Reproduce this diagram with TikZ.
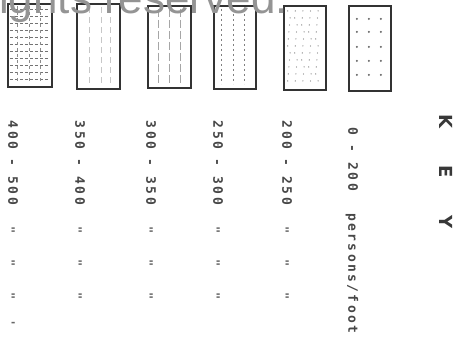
\documentclass[tikz,border=0pt]{standalone}
\usepackage{fontspec}
\setmainfont{DejaVu Sans}
\newfontfamily\monof{DejaVu Sans Mono}
\newfontfamily\wmf{Liberation Sans}
\newcommand\ch[1]{\makebox[10.5pt]{#1}}
\newcommand\hy{\makebox[24pt]{-}}
\newcommand\cs[1]{\makebox[10.2pt]{#1}}
\begin{document}
\begin{tikzpicture}[x=1pt,y=-1pt,
  keybox/.style={draw=black!80, line width=2.2pt, fill=white, inner sep=0pt},
  lbl/.style={rotate=-90, anchor=base west, inner sep=0pt, text=black!72, font=\monof\bfseries\fontsize{13}{13}\selectfont},
  ditto/.style={rotate=-90, anchor=base, inner sep=0pt, text=black!60, font=\monof\bfseries\fontsize{12}{12}\selectfont},
  keyltr/.style={rotate=-90, inner sep=0pt, text=black!78, font=\bfseries\fontsize{18}{18}\selectfont},
  wmark/.style={anchor=base west, inner sep=0pt, text=black!42, font=\wmf\fontsize{44}{44}\selectfont}]
\useasboundingbox (0,0) rectangle (464,338);
\fill[white] (0,0) rectangle (464,338);
% boxes
\node[keybox, minimum width=44pt, minimum height=83pt] (b1) at (30,45.5) {};
\node[keybox, minimum width=43pt, minimum height=85pt] (b2) at (98.5,46.5) {};
\node[keybox, minimum width=43pt, minimum height=82pt] (b3) at (169.5,47) {};
\node[keybox, minimum width=42pt, minimum height=83pt] (b4) at (235,47.5) {};
\node[keybox, minimum width=42pt, minimum height=84pt] (b5) at (305,48) {};
\node[keybox, minimum width=42pt, minimum height=85pt] (b6) at (370,48.5) {};
% patterns
\begin{scope}[shift={(b1.north west)}]
  \foreach \yy in {7,14,...,77} \draw[black!55, line width=1pt, dash pattern=on 3pt off 2pt] (3,\yy) -- (41,\yy);
  \foreach \xx in {10,22,33} \draw[black!45, line width=0.8pt, dash pattern=on 3pt off 3pt] (\xx,3) -- (\xx,80);
\end{scope}
\begin{scope}[shift={(b2.north west)}]
  \foreach \xx in {13,25,34} \draw[black!22, line width=0.7pt, dash pattern=on 6pt off 4pt] (\xx,4) -- (\xx,80);
\end{scope}
\begin{scope}[shift={(b3.north west)}]
  \foreach \xx in {11,22,33} \draw[black!35, line width=0.7pt, dash pattern=on 8pt off 3pt] (\xx,4) -- (\xx,78);
\end{scope}
\begin{scope}[shift={(b4.north west)}]
  \foreach \xx in {9,21,32} \draw[black!50, line width=0.9pt, dash pattern=on 2pt off 3pt] (\xx,4) -- (\xx,79);
\end{scope}
\begin{scope}[shift={(b5.north west)}]
  \foreach \xx in {6,13,20,27,34} \foreach \yy in {6,13,...,78} {
    \pgfmathsetmacro\jx{\xx+mod(\yy*7+\xx*3,5)*0.6-1.2}
    \fill[black!50] (\jx,\yy) circle (0.65pt);
  }
\end{scope}
\begin{scope}[shift={(b6.north west)}]
  \foreach \xx in {9,21,33} \foreach \yy in {14,27,42,56,70} \fill[black!60] (\xx,\yy) circle (1.1pt);
\end{scope}
% labels
\node[lbl] (l1) at (8.3,119) {\ch4\ch0\ch0\hy\ch5\ch0\ch0};
\node[lbl] (l2) at (75.3,119) {\ch3\ch5\ch0\hy\ch4\ch0\ch0};
\node[lbl] (l3) at (146.3,119) {\ch3\ch0\ch0\hy\ch3\ch5\ch0};
\node[lbl] (l4) at (213.3,119) {\ch2\ch5\ch0\hy\ch3\ch0\ch0};
\node[lbl] (l5) at (282.3,119) {\ch2\ch0\ch0\hy\ch2\ch5\ch0};
\node[lbl] (l6) at (348.3,126) {\ch0\hy\ch2\ch0\ch0\hspace{20pt}\cs p\cs e\cs r\cs s\cs o\cs n\cs s\cs /\cs f\cs o\cs o\cs t};
% ditto marks
\foreach \cx/\nm in {13/a,80/b,151/c,218/d,287/e} {
  \foreach \yy/\k in {230/1,263/2,296/3} \node[ditto] (d\nm\k) at (\cx-7,\yy) {"};
}
\node[ditto] (da4) at (6,323) {'};
% KEY
\node[keyltr] (kk) at (446,121) {K};
\node[keyltr] (ke) at (446,172) {E};
\node[keyltr] (ky) at (446,222) {Y};
% watermark
\node[wmark] (wm) at (-1,13) {ights reserved.};
\end{tikzpicture}
\end{document}
